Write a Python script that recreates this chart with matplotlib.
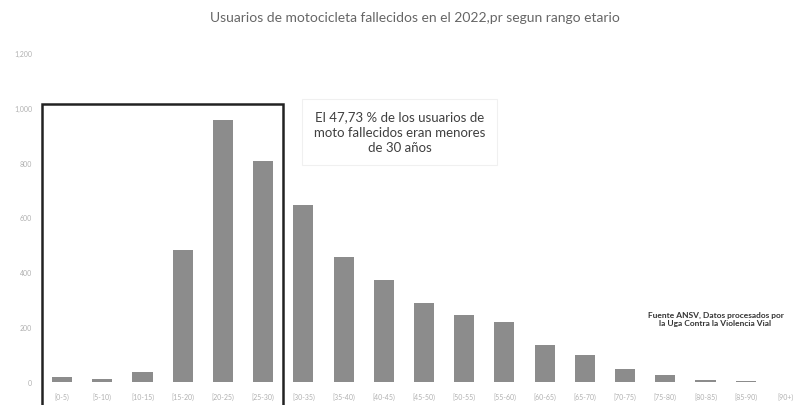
import matplotlib
matplotlib.use("Agg")
import matplotlib.pyplot as plt
from matplotlib.patches import Rectangle

plt.rcParams['font.family'] = ['Lato', 'DejaVu Sans']

age_ranges = ["[0-5)", "[5-10)", "[10-15)", "[15-20)", "[20-25)", "[25-30)",
              "[30-35)", "[35-40)", "[40-45)", "[45-50)", "[50-55)", "[55-60)",
              "[60-65)", "[65-70)", "[70-75)", "[75-80)", "[80-85)", "[85-90)",
              "[90+)"]
deaths = [17, 12, 36, 482, 956, 807, 646, 456, 372, 288, 245, 219,
          135, 99, 47, 26, 7, 4, 0]
y_ticks = [0, 200, 400, 600, 800, 1000, 1200]
y_tick_labels = ["0", "200", "400", "600", "800", "1,000", "1,200"]

W, H = 805, 406
fig = plt.figure(figsize=(W / 100, H / 100), dpi=100)
ax = fig.add_axes([42 / W, 23 / H, 764 / W, 329 / H])

x = list(range(len(age_ranges)))
ax.bar(x, deaths, width=0.5, color="#8c8c8c", zorder=2)

ax.set_xlim(-0.5, len(age_ranges) - 0.5)
ax.set_ylim(0, 1200)
ax.set_xticks(x)
ax.set_xticklabels(age_ranges, fontsize=5, color="#b0b0b0")
ax.set_yticks(y_ticks)
ax.set_yticklabels(y_tick_labels, fontsize=5, color="#b0b0b0")
ax.tick_params(length=0, pad=7)
for s in ax.spines.values():
    s.set_visible(False)

# frame around the under-30 groups
ax.add_patch(Rectangle((-0.5, -150), 6, 1165, fill=False, edgecolor="#222222",
                       linewidth=1.8, clip_on=False, zorder=3))

ax.text(8.4, 912, "El 47,73 % de los usuarios de\nmoto fallecidos eran menores\nde 30 años",
        ha="center", va="center", fontsize=9.5, color="#404040", linespacing=1.35,
        bbox=dict(boxstyle="square,pad=0.9", facecolor="white", edgecolor="#f0f0f0",
                  linewidth=0.8), zorder=4)

ax.text(16.25, 232, "Fuente ANSV, Datos procesados por\nla Uga Contra la Violencia Vial",
        ha="center", va="center", fontsize=6, fontweight="bold", color="#333333",
        linespacing=1.3)

fig.text(415 / W, 1 - 18 / H,
         "Usuarios de motocicleta fallecidos en el 2022,pr segun rango etario",
         ha="center", va="center", fontsize=10, color="#666666")

fig.savefig("out.png", dpi=100, facecolor="white")
